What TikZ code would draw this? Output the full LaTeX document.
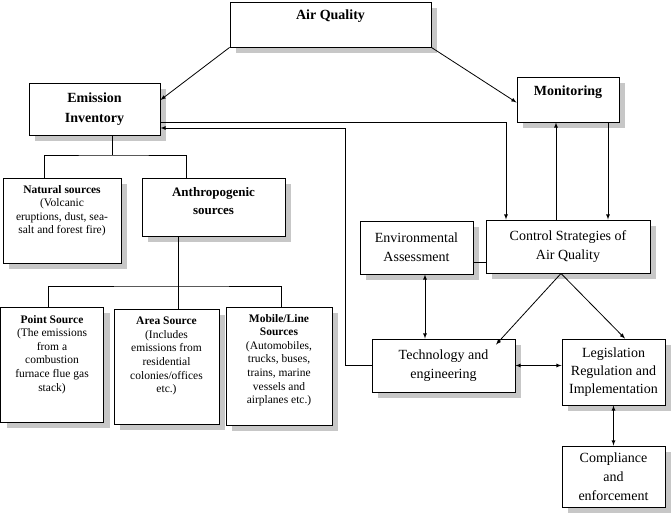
\documentclass[tikz,border=0pt]{standalone}
\usepackage{fontspec}
\setmainfont{Liberation Serif}
\usetikzlibrary{shadows}
\tikzset{
    box/.style={draw, fill=white, line width=0.9pt, inner sep=0pt,
        drop shadow={shadow xshift=6pt, shadow yshift=-6pt, fill=black!22, opacity=1}},
    big/.style={align=center, font=\fontsize{14}{19}\selectfont},
    small/.style={align=center, font=\fontsize{11.5}{13.6}\selectfont},
    arr/.style={-latex, line width=0.8pt},
    dbl/.style={latex-latex, line width=0.8pt},
    ln/.style={line width=0.8pt}
}
\begin{document}
\begin{tikzpicture}[x=1pt, y=-1pt]
    \useasboundingbox (0,0) rectangle (672,517);
    % boxes
    \node[box, minimum width=201pt, minimum height=45pt] (air) at (330.5,24.5) {};
    \node[big, font=\fontsize{14}{19}\selectfont\bfseries] at (330.5,16) {Air Quality};
    \node[box, minimum width=131pt, minimum height=52pt] (emis) at (94.5,109) {};
    \node[big, font=\fontsize{14}{20}\selectfont\bfseries] at (emis) {Emission\\Inventory};
    \node[box, minimum width=102pt, minimum height=45pt] (mon) at (568,99.5) {};
    \node[big, font=\fontsize{14}{19}\selectfont\bfseries] at (568,92) {Monitoring};
    \node[box, minimum width=118pt, minimum height=85pt] (nat) at (62,220.5) {};
    \node[small, anchor=north] at ([yshift=-4pt]nat.north) {\textbf{Natural sources}\\(Volcanic\\eruptions, dust, sea-\\salt and forest fire)};
    \node[box, minimum width=143pt, minimum height=58pt] (anth) at (213.5,207) {};
    \node[big, font=\fontsize{13}{18}\selectfont\bfseries] at (213.5,201) {Anthropogenic\\sources};
    \node[box, minimum width=113pt, minimum height=53pt] (env) at (416.5,247.5) {};
    \node[big] at (env) {Environmental\\Assessment};
    \node[box, minimum width=164pt, minimum height=53pt] (ctrl) at (568,246.5) {};
    \node[big] at (ctrl) {Control Strategies of\\Air Quality};
    \node[box, minimum width=103pt, minimum height=115pt] (point) at (52,364.5) {};
    \node[small, anchor=north] at ([yshift=-5pt]point.north) {\textbf{Point Source}\\(The emissions\\from a\\combustion\\furnace flue gas\\stack)};
    \node[box, minimum width=105pt, minimum height=115pt] (area) at (166.5,366.5) {};
    \node[small, anchor=north] at ([yshift=-5pt]area.north) {\textbf{Area Source}\\(Includes\\emissions from\\residential\\colonies/offices\\etc.)};
    \node[box, minimum width=106pt, minimum height=118pt] (mob) at (279,366) {};
    \node[small, anchor=north] at ([yshift=-4pt]mob.north) {\textbf{Mobile/Line}\\\textbf{Sources}\\(Automobiles,\\trucks, buses,\\trains, marine\\vessels and\\airplanes etc.)};
    \node[box, minimum width=143pt, minimum height=53pt] (tech) at (443.5,365.5) {};
    \node[big] at (tech) {Technology and\\engineering};
    \node[box, minimum width=103pt, minimum height=66pt] (leg) at (613.5,372) {};
    \node[big, font=\fontsize{14}{18}\selectfont] at (leg) {Legislation\\Regulation and\\Implementation};
    \node[box, minimum width=103pt, minimum height=61pt] (comp) at (613.5,476.5) {};
    \node[big, font=\fontsize{14}{19}\selectfont] at (comp) {Compliance\\and\\enforcement};
    % arrows
    \draw[arr] (air.south west) -- ([yshift=9pt]emis.east);
    \draw[arr] (air.south east) -- ([yshift=-3pt]mon.west);
    \draw[arr] ([yshift=-13pt]emis.east) -| ([xshift=-62pt]ctrl.north);
    \draw[arr] (tech.west) -- ++(-26,0) |- ([yshift=-19pt]emis.east);
    \draw[arr] ([xshift=-12pt]ctrl.north) -- ([xshift=-12pt]mon.south);
    \draw[arr] ([xshift=40pt]mon.south) -- ([xshift=40pt]mon.south |- ctrl.north);
    \draw[dbl] ([xshift=8.5pt]env.south) -- ([xshift=8.5pt]env.south |- tech.north);
    \draw[ln] ([yshift=-14.5pt]env.east) -- ([yshift=-14.5pt]env.east -| ctrl.west);
    \draw[arr] ([xshift=-7pt]ctrl.south) -- ([xshift=52.5pt, yshift=-6pt]tech.north);
    \draw[arr] ([xshift=-7pt]ctrl.south) -- ([xshift=11.5pt]leg.north);
    \draw[dbl] (tech.east) -- (tech.east -| leg.west);
    \draw[dbl] (leg.south) -- (comp.north);
    % trees
    \coordinate (ej) at (112,155);
    \draw[ln] ([xshift=17.5pt]emis.south) -- (ej);
    \draw[ln] ([xshift=-18pt]nat.north) |- (ej) -| ([xshift=-27.5pt]anth.north);
    \coordinate (aj) at (178,286);
    \draw[ln] ([xshift=-35.5pt]anth.south) -- ([xshift=11.5pt]area.north);
    \draw[ln] ([xshift=-3.5pt]point.north) |- (aj) -| ([xshift=2pt]mob.north);
\end{tikzpicture}
\end{document}
